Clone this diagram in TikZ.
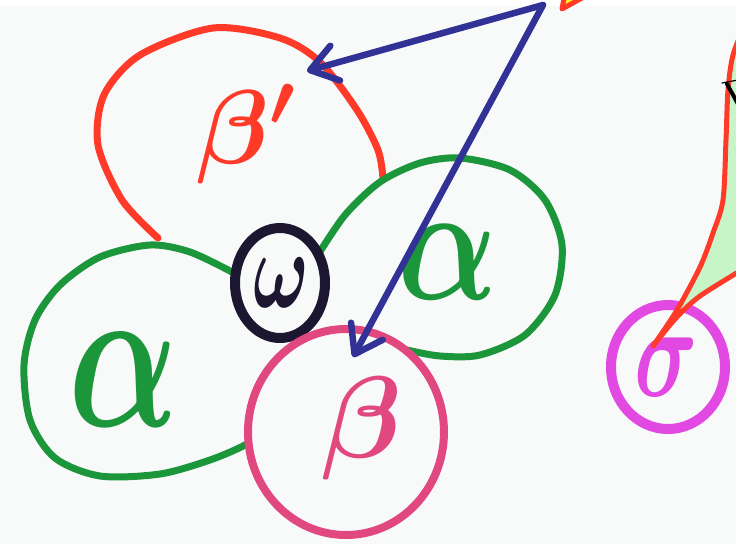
\RequirePackage{fix-cm}
\documentclass[tikz,border=0pt]{standalone}
\usepackage{graphicx}
\usetikzlibrary{arrows.meta,shapes.geometric}
\definecolor{paper}{RGB}{248,250,250}
\definecolor{penred}{RGB}{255,58,40}
\definecolor{pengreen}{RGB}{28,150,58}
\definecolor{penpink}{RGB}{226,72,128}
\definecolor{penmagenta}{RGB}{226,72,226}
\definecolor{peninky}{RGB}{28,22,48}
\definecolor{penblue}{RGB}{50,50,150}
\definecolor{bubblegreen}{RGB}{200,245,200}
\definecolor{bubbleyellow}{RGB}{255,240,40}
\begin{document}
\begin{tikzpicture}[x=1pt,y=-1pt,line cap=round,line join=round,
  pen/.style={line width=7pt},
  subunit/.style={ellipse,fill=paper,inner sep=0pt,line width=8pt},
  glyph/.style={inner sep=0pt,font=\fontsize{#1}{#1}\selectfont\boldmath},
  pointer/.style={draw=penblue,line width=6.5pt,-{Straight Barb[round,length=26pt,width=36pt]}}]
\useasboundingbox (0,0) rectangle (736,544);
\clip (0,0) rectangle (736,544);
\fill[paper] (0,0) rectangle (736,544);
\fill[white] (0,0) rectangle (736,6);
\draw[pen,draw=penred] plot[smooth] coordinates {(158,238) (122,200) (98,145) (104,95) (140,55) (213,28) (280,38) (320,62) (357,110) (378,150) (383,178)};
\draw[pen,draw=pengreen] plot[smooth] coordinates {(232,272) (190,252) (150,245) (100,257) (60,285) (35,320) (24,365) (30,420) (55,458) (100,476) (160,474) (210,460) (245,445) (262,432)};
\draw[pen,draw=pengreen] plot[smooth] coordinates {(316,258) (345,215) (380,182) (420,163) (460,158) (510,170) (545,200) (562,245) (555,295) (525,335) (480,355) (440,356) (407,350)};
\node[subunit,draw=peninky,line width=10pt,minimum width=90pt,minimum height=110pt] (omega) at (280,283) {};
\node[subunit,draw=penpink,minimum width=196pt,minimum height=206pt] (beta) at (346,432) {};
\node[subunit,draw=penmagenta,line width=10pt,minimum width=114pt,minimum height=124pt] (sigma) at (668,367) {};
\node[glyph=105,text=penred] (lbBp) at (246,134) {$\beta'$};
\node[glyph=145,text=pengreen] (lbAlL) at (124,380) {\scalebox{1}[1.45]{$\alpha$}};
\node[glyph=132,text=pengreen] (lbAlR) at (448,262) {\scalebox{1}[1.27]{$\alpha$}};
\node[glyph=74,text=peninky] (lbOm) at (281,283) {\scalebox{1}[1.5]{$\omega$}};
\node[glyph=116,text=penpink] (lbBe) at (362,428) {$\beta$};
\node[glyph=88,text=penmagenta] (lbSi) at (666,367) {\scalebox{1}[1.5]{$\sigma$}};
\filldraw[fill=bubblegreen,draw=penred,line width=5pt] plot[smooth] coordinates {(653,346) (677,310) (700,267) (713,233) (723,200) (726,140) (728,90) (733,55) (745,25)} -- (760,25) -- (760,266) -- plot[smooth] coordinates {(745,268) (700,296) (676,318) (653,346)} -- cycle;
\draw[black,line width=4pt] (727,84) -- (738,104);
\draw[black,line width=1.2pt] (722,83) -- (738,80);
\filldraw[fill=bubbleyellow,draw=penred,line width=5pt] (562,9) -- (566,-12) -- (600,-12) -- cycle;
\coordinate (hub) at (543,5);
\coordinate (tipBp) at (307,71);
\coordinate (tipB) at (353,357);
\draw[pointer] (hub) -- (tipBp);
\draw[pointer] (hub) -- (tipB);
\end{tikzpicture}
\end{document}
